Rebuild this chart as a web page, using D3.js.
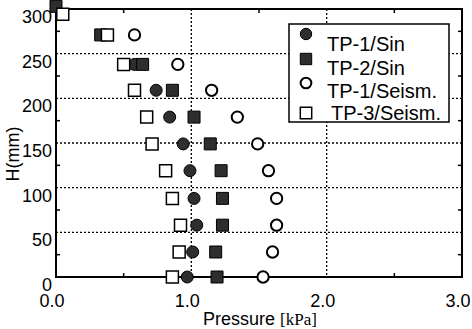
<!DOCTYPE html>
<head>
<meta charset="utf-8">
<script src="https://d3js.org/d3.v7.min.js"></script>
<style>
  body { margin:0; background:#fff; }
  svg { font-family: "Liberation Sans", Arial, sans-serif; }
</style>
</head>
<body>
<svg id="chart" width="472" height="329"></svg>
<script>
// values (pressure kPa, height mm)
var tp1SinH = [0, 28, 58, 88, 119, 149, 179, 209, 238];
var tp1SinP = [0.97, 1.01, 1.04, 1.02, 0.99, 0.94, 0.84, 0.74, 0.58];

var tp2SinH = [0, 28, 58, 88, 119, 149, 179, 209, 238, 271, 303];
var tp2SinP = [1.19, 1.18, 1.23, 1.23, 1.22, 1.14, 1.02, 0.86, 0.64, 0.33, 0.0];

var tp1SeiH = [0, 28, 58, 88, 119, 149, 179, 209, 238, 271];
var tp1SeiP = [1.53, 1.60, 1.63, 1.63, 1.57, 1.49, 1.34, 1.15, 0.90, 0.58];

var tp3SeiH = [0, 28, 58, 88, 119, 149, 179, 209, 238, 271, 294];
var tp3SeiP = [0.86, 0.91, 0.92, 0.86, 0.81, 0.71, 0.67, 0.58, 0.50, 0.38, 0.05];

var xTicks = [0, 1, 2, 3];
var yTicks = [0, 50, 100, 150, 200, 250, 300];
var xGrid = [1, 2];
var yGrid = [50, 100, 150, 200, 250];
var xMinor = [0.5, 1.5, 2.5];
var yMinor = [25, 75, 125, 175, 225, 275];
var seriesNames = ["TP-1/Sin", "TP-2/Sin", "TP-1/Seism.", "TP-3/Seism."];

var svg = d3.select("#chart");
var padL = 56, padR = 462, padT = 9, padB = 277;

var x = d3.scaleLinear().domain([0, 3]).range([padL, padR]);
var y = d3.scaleLinear().domain([0, 300]).range([padB, padT]);

svg.append("rect").attr("width", 472).attr("height", 329).attr("fill", "#fff");

// dotted grid
svg.selectAll(".hgrid").data(yGrid).enter().append("line")
  .attr("x1", padL).attr("x2", padR)
  .attr("y1", function(d){ return y(d); }).attr("y2", function(d){ return y(d); })
  .attr("stroke", "#000").attr("stroke-width", 1.3).attr("stroke-dasharray", "2,2");
svg.selectAll(".vgrid").data(xGrid).enter().append("line")
  .attr("y1", padT).attr("y2", padB)
  .attr("x1", function(d){ return x(d); }).attr("x2", function(d){ return x(d); })
  .attr("stroke", "#000").attr("stroke-width", 1.3).attr("stroke-dasharray", "2,2");

// minor ticks inside the frame
[padB, padT].forEach(function(yy){
  svg.selectAll(null).data(xMinor).enter().append("line")
    .attr("x1", function(d){ return x(d); }).attr("x2", function(d){ return x(d); })
    .attr("y1", yy).attr("y2", yy == padB ? yy - 4 : yy + 4)
    .attr("stroke", "#000").attr("stroke-width", 1.5);
});
[padL, padR].forEach(function(xx){
  svg.selectAll(null).data(yMinor).enter().append("line")
    .attr("y1", function(d){ return y(d); }).attr("y2", function(d){ return y(d); })
    .attr("x1", xx).attr("x2", xx == padL ? xx + 4 : xx - 4)
    .attr("stroke", "#000").attr("stroke-width", 1.5);
});

// frame
svg.append("rect").attr("x", padL).attr("y", padT)
  .attr("width", padR - padL).attr("height", padB - padT)
  .attr("fill", "none").attr("stroke", "#000").attr("stroke-width", 2);

// tick labels
svg.selectAll(".xl").data(xTicks).enter().append("text")
  .attr("x", function(d){ return x(d) - 4; }).attr("y", 307)
  .attr("text-anchor", "middle").attr("font-size", 18)
  .text(function(d){ return d3.format(".1f")(d); });
svg.selectAll(".yl").data(yTicks).enter().append("text")
  .attr("x", 52).attr("y", function(d){ return y(d) + 14; })
  .attr("text-anchor", "end").attr("font-size", 18)
  .text(function(d){ return d; });

// axis titles
var xt = svg.append("text").attr("x", 203).attr("y", 325).attr("font-size", 18);
xt.append("tspan").text("Pressure ");
xt.append("tspan").attr("font-family", "'Liberation Serif', 'Times New Roman', serif")
  .attr("font-size", 17).text("[kPa]");
svg.append("text").attr("transform", "translate(19,154) rotate(-90)")
  .attr("text-anchor", "middle").attr("font-size", 18).text("H(mm)");

// markers
var dark = "#2e2e2e";
function pts(P, H){ return P.map(function(p, i){ return [p, H[i]]; }); }
var styles = [
  { shape: d3.symbolCircle, size: 113, fill: dark, stroke: "#000", sw: 1 },
  { shape: d3.symbolSquare, size: 144, fill: dark, stroke: "#000", sw: 1 },
  { shape: d3.symbolCircle, size: 100, fill: "#fff", stroke: "#000", sw: 2 },
  { shape: d3.symbolSquare, size: 144, fill: "#fff", stroke: "#000", sw: 1.5 }
];
var allData = [pts(tp1SinP, tp1SinH), pts(tp2SinP, tp2SinH), pts(tp1SeiP, tp1SeiH), pts(tp3SeiP, tp3SeiH)];

allData.forEach(function(data, k){
  var s = styles[k];
  svg.append("g").selectAll("path").data(data).enter().append("path")
    .attr("d", d3.symbol().type(s.shape).size(s.size))
    .attr("transform", function(d){ return "translate(" + x(d[0]) + "," + y(d[1]) + ")"; })
    .attr("fill", s.fill).attr("stroke", s.stroke).attr("stroke-width", s.sw);
});

// legend
var lg = svg.append("g");
lg.append("rect").attr("x", 289).attr("y", 24).attr("width", 160).attr("height", 98)
  .attr("fill", "#fff").attr("stroke", "#000").attr("stroke-width", 1.5);
var symY = [34, 59, 83, 113];
var txtY = [51, 75, 98, 120];
var txtX = [327, 327, 327, 331];
seriesNames.forEach(function(name, k){
  var s = styles[k];
  lg.append("path").attr("d", d3.symbol().type(s.shape).size(s.size * 0.9))
    .attr("transform", "translate(306," + symY[k] + ")")
    .attr("fill", s.fill).attr("stroke", s.stroke).attr("stroke-width", s.sw);
  lg.append("text").attr("x", txtX[k]).attr("y", txtY[k]).attr("font-size", 20).text(name);
});
</script>
</body>
